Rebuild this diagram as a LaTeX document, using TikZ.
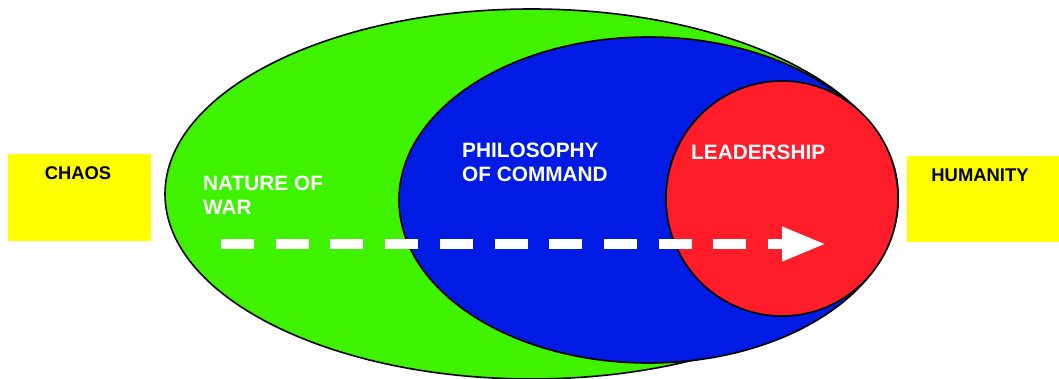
\documentclass[tikz,border=0pt]{standalone}
\usepackage{fontspec}
\setmainfont{Liberation Sans}
\usepackage{xcolor}
\usepackage{tikz}
\usetikzlibrary{arrows.meta,shapes.geometric,positioning}

\definecolor{wargreen}{RGB}{62,242,0}
\definecolor{cmdblue}{RGB}{0,28,228}
\definecolor{leadred}{RGB}{255,29,41}
\definecolor{sideyellow}{RGB}{255,255,0}

\begin{document}
\begin{tikzpicture}[x=1pt,y=-1pt,
  region/.style={ellipse,draw=black,line width=1.6pt,inner sep=0pt},
  sidebox/.style={rectangle,fill=sideyellow,inner sep=0pt},
  sidetext/.style={inner sep=0pt,font=\fontsize{18.4}{21}\selectfont\bfseries},
  regiontext/.style={inner sep=0pt,anchor=north west,align=left,text=white,font=\fontsize{20.8}{23.5}\selectfont\bfseries},
  flow/.style={white,line width=10pt,dash pattern=on 33pt off 21.7pt,-{Triangle[length=44pt,width=32pt]}}]
  \useasboundingbox (0,0) rectangle (1059,379);
  % nested regions
  \node[region,fill=wargreen,minimum width=733pt,minimum height=370pt] (war) at (531.5,194) {};
  \node[region,fill=cmdblue,minimum width=499pt,minimum height=326pt] (command) at (648.5,200) {};
  \node[region,fill=leadred,minimum width=232pt,minimum height=235pt] (lead) at (782,198.5) {};
  % side boxes
  \node[sidebox,minimum width=143pt,minimum height=87pt] (chaos) at (79.5,197.5) {};
  \node[sidebox,minimum width=152pt,minimum height=86pt] (humanity) at (983,199) {};
  \node[sidetext,below=13pt of chaos.north,xshift=-1.5pt] (chaostext) {CHAOS};
  \node[sidetext,below=13pt of humanity.north,xshift=-3pt] (humanitytext) {HUMANITY};
  % flow arrow
  \coordinate (flowstart) at (221,244);
  \coordinate (flowend) at (826,244);
  \draw[flow] (flowstart) -- (flowend);
  % labels
  \node[regiontext] (wartext) at (203,176) {NATURE OF\\WAR};
  \node[regiontext] (commandtext) at (462,143) {PHILOSOPHY\\OF COMMAND};
  \node[regiontext] (leadtext) at (691,145) {LEADERSHIP};
\end{tikzpicture}
\end{document}
